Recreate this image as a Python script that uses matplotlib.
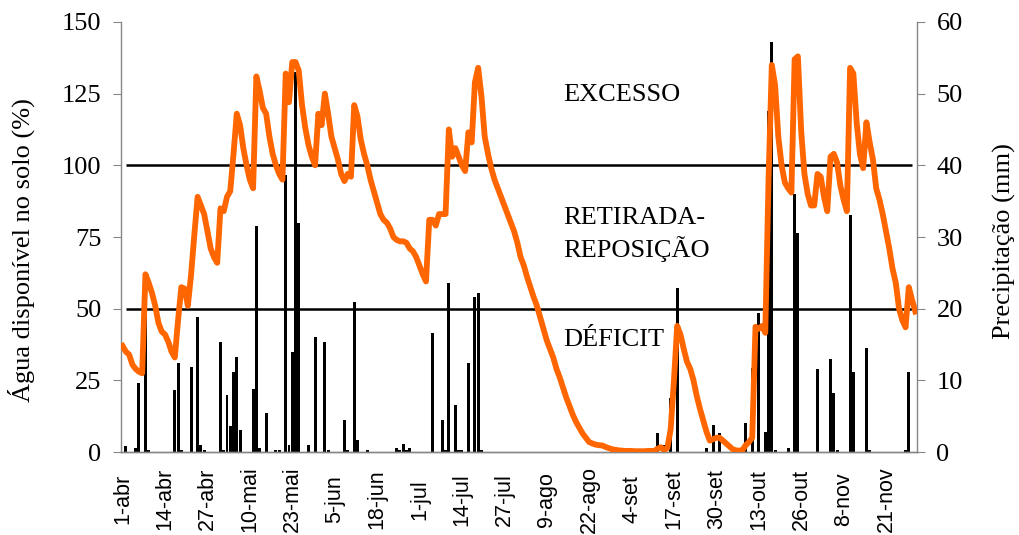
import numpy as np
import matplotlib
matplotlib.use('Agg')
import matplotlib.pyplot as plt

# rotulos do eixo x (a cada 13 dias, de 1-abr a 30-nov)
tick_labels = ['1-abr', '14-abr', '27-abr', '10-mai', '23-mai', '5-jun', '18-jun',
               '1-jul', '14-jul', '27-jul', '9-ago', '22-ago', '4-set', '17-set',
               '30-set', '13-out', '26-out', '8-nov', '21-nov']

# agua disponivel no solo (%), diario
agua = [37, 35, 34, 30.5, 29, 28, 27.5, 62, 59, 55.5,
        51, 45, 42, 41, 38.5, 35, 33, 46, 57.5, 57,
        51, 62, 76, 89, 86, 83, 77, 71, 68, 66,
        85, 84, 89, 91, 104, 118, 114, 106, 100, 95,
        92, 131, 126, 120, 118, 110, 104, 100, 97, 95,
        132, 122, 136, 136, 133, 121, 113, 107, 103, 100,
        118, 114, 125, 118, 110, 106, 102, 97, 94.5, 97,
        96, 121, 117, 109, 104, 100, 95, 91, 87, 83,
        81, 80, 78, 75, 74, 73.5, 73.5, 73, 71, 70,
        68, 65, 62, 59.5, 81, 81, 79, 83, 83, 83,
        112.5, 103, 106, 103, 100, 98, 111.5, 108, 129, 134,
        124, 110, 104, 99, 95, 92, 89, 86, 83, 80,
        77, 73, 68, 65, 61, 57.5, 54, 51, 47, 43,
        39, 36, 33, 29, 26, 22.5, 19, 16, 13, 10.5,
        8.5, 6.5, 5, 3.5, 3, 2.6, 2.4, 2.3, 1.8, 1.4,
        1, 0.8, 0.6, 0.5, 0.4, 0.4, 0.4, 0.3, 0.3, 0.3,
        0.3, 0.4, 0.4, 0.4, 1.2, 1.7, 0.7, 1.5, 8, 25,
        44, 41, 36, 31.5, 29, 25, 19.5, 15, 11, 7,
        4, 4.5, 5, 5, 4, 3, 2, 1, 0.6, 0.5,
        0.7, 2.4, 3.5, 5, 43.7, 43, 44, 41.6, 95, 135,
        128, 110, 100, 94, 92, 90.5, 137, 138, 112, 97,
        90, 86, 86, 97, 96, 89, 84, 103, 104, 101,
        93, 88, 84, 134, 132, 115, 104, 99, 115, 108,
        102, 92, 88, 83, 77, 71, 64, 59, 50, 46,
        43.5, 57.5, 53, 49]

# precipitacao (mm): dias com chuva e valores
chuva_dias = [1, 4, 5, 7, 8, 16, 17, 18, 21, 23, 24, 25, 30, 31, 32, 33, 34, 35, 36,
              40, 41, 42, 44, 47, 48, 50, 51, 52, 53, 54, 57, 59, 62, 63, 68, 69,
              71, 72, 75, 84, 85, 86, 87, 88, 95, 98, 99, 100, 102, 103, 104, 106,
              108, 109, 110, 164, 166, 168, 170, 179, 181, 183, 191, 193, 195, 197,
              198, 199, 200, 204, 206, 207, 213, 217, 218, 219, 223, 224, 228, 229,
              240, 241]
chuva_mm = [0.9, 0.5, 9.6, 19, 0.3, 8.7, 12.4, 0.3, 11.9, 18.9, 1, 0.3, 15.4, 0.3, 8,
            3.6, 11.2, 13.3, 3.1, 8.8, 31.5, 0.5, 5.4, 0.3, 0.3, 38.7, 1, 14, 53, 32,
            1, 16, 15.4, 0.3, 4.5, 0.3, 21, 1.7, 0.3, 0.5, 0.3, 1.1, 0.3, 0.6, 16.6,
            4.5, 0.3, 23.6, 6.6, 0.3, 0.3, 12.4, 21.6, 22.2, 0.3, 2.6, 1, 7.5, 22.9,
            0.5, 3.8, 2.6, 4, 11.7, 19.4, 2.8, 47.6, 57.2, 0.3, 0.5, 36, 30.6, 11.6,
            13, 8.2, 0.3, 33, 11.1, 14.5, 0.3, 0.3, 11.2]

dias = np.arange(len(agua))
chuva = np.zeros(len(agua))
chuva[chuva_dias] = chuva_mm

serif = 'Liberation Serif'
sans = 'Liberation Sans'
cinza = '#868686'

fig = plt.figure(figsize=(10.2, 5.35), dpi=100)
ax = fig.add_axes([0.1186, 0.155, 0.7804, 0.804])
ax2 = ax.twinx()
ax.set_zorder(2)
ax2.set_zorder(1)
ax.patch.set_visible(False)

# barras de precipitacao (eixo direito)
ax2.bar(dias, chuva, width=0.9, color='black', linewidth=0, zorder=2)
ax2.set_ylim(0, 60)
ax2.set_yticks(range(0, 61, 10))

# linhas de referencia e agua no solo (eixo esquerdo)
ax.hlines([50, 100], dias[1], dias[-2], color='black', lw=1.8, zorder=2)
ax.plot(dias, agua, color='#ff6600', lw=4.2, solid_joinstyle='round', zorder=3)
ax.set_ylim(0, 150)
ax.set_yticks(range(0, 151, 25))
ax.set_xlim(-0.5, len(agua) - 0.5)
ax.set_xticks(dias[::13])
ax.set_xticklabels(tick_labels, rotation=90, fontsize=15.5, family=sans, va='center')

ax.text(135, 122.4, 'EXCESSO', fontsize=19, family=serif, va='baseline')
ax.text(135, 79.4, 'RETIRADA-', fontsize=19, family=serif, va='baseline')
ax.text(135, 68.2, 'REPOSIÇÃO', fontsize=19, family=serif, va='baseline')
ax.text(135, 37.1, 'DÉFICIT', fontsize=19, family=serif, va='baseline')

for a in (ax, ax2):
    a.spines['top'].set_visible(False)
    for s in ('left', 'right', 'bottom'):
        a.spines[s].set_color(cinza)
        a.spines[s].set_linewidth(1.0)
ax.spines['right'].set_visible(False)
ax2.spines['left'].set_visible(False)

ax.tick_params(axis='y', direction='out', length=6, color=cinza, labelsize=19, pad=8)
ax2.tick_params(axis='y', direction='out', length=6, color=cinza, labelsize=19, pad=8)
ax.tick_params(axis='x', length=0, pad=34)
for lab in ax.get_yticklabels() + ax2.get_yticklabels():
    lab.set_family(serif)

fig.text(0.021, 0.533, 'Água disponível no solo (%)', rotation=90, fontsize=19,
         family=serif, ha='center', va='center')
fig.text(0.985, 0.55, 'Precipitação (mm)', rotation=90, fontsize=19,
         family=serif, ha='center', va='center')

plt.savefig('out.png', dpi=100)
